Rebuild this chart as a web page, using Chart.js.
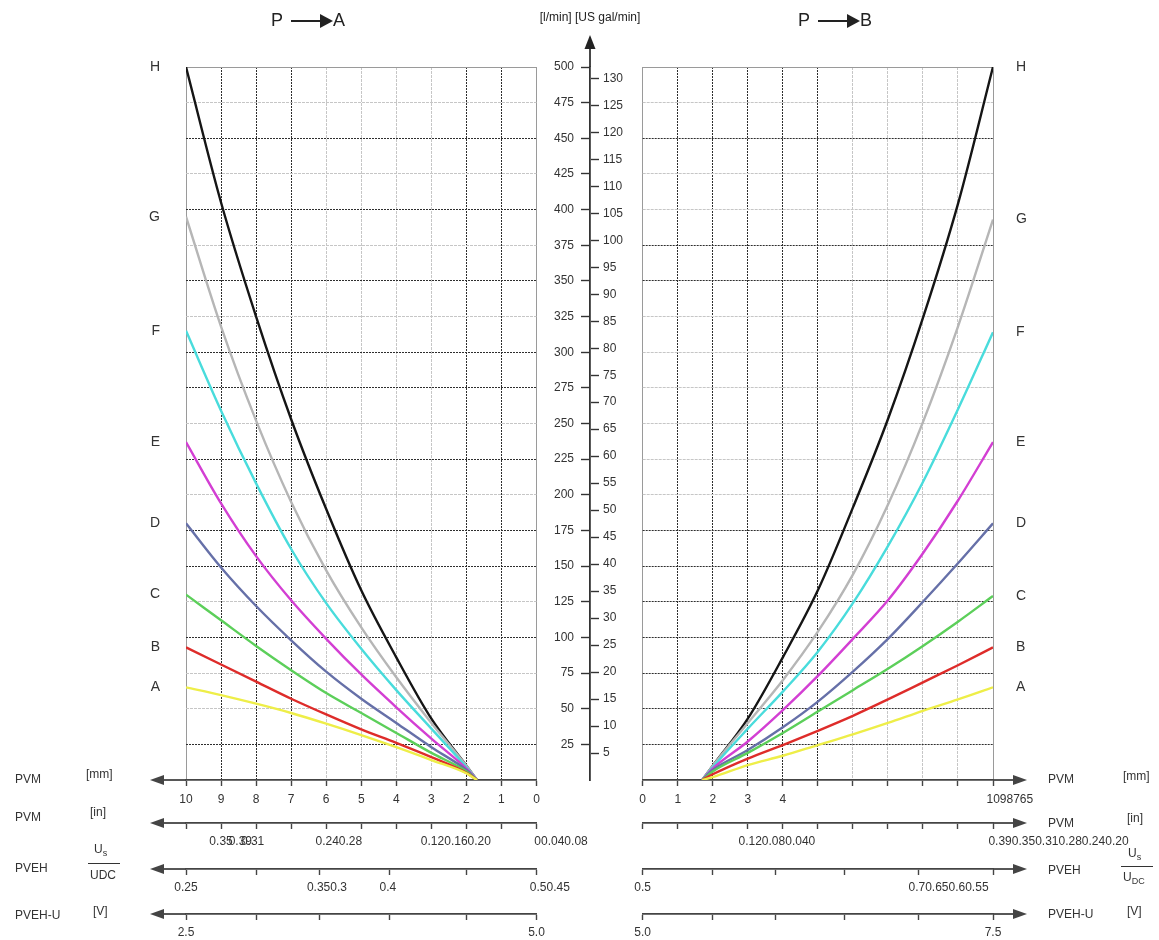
<!DOCTYPE html>
<html>
<head>
<meta charset="utf-8">
<script src="https://cdn.jsdelivr.net/npm/chart.js@4.4.0/dist/chart.umd.min.js"></script>
<style>
  body { margin: 0; background: #fff; font-family: 'Liberation Sans', Arial, sans-serif; color: #333; }
  #page { position: relative; width: 1159px; height: 940px; overflow: hidden; }
  canvas { position: absolute; top: 0; }
  .t { position: absolute; font-size: 12px; line-height: 14px; white-space: nowrap; transform: translateY(-50%); }
  .hd { position: absolute; font-size: 18px; line-height: 20px; white-space: nowrap; transform: translateY(-50%); color: #222; }
  .arr { display: inline-block; position: relative; width: 30px; height: 2px; background: #222; vertical-align: middle; margin: 0 12px 0 8px; }
  .arr::after { content: ''; position: absolute; right: -12px; top: -6px; border-left: 13px solid #222; border-top: 7px solid transparent; border-bottom: 7px solid transparent; }
  .bar { position: absolute; height: 1px; background: #333; }
  sub { font-size: 9px; vertical-align: -3px; }
</style>
</head>
<body>
<div id="page">
  <canvas id="chartPA" width="600" height="940" style="left:0"></canvas>
  <canvas id="chartPB" width="559" height="940" style="left:600px"></canvas>
  <canvas id="flowAxis" width="180" height="940" style="left:500px"></canvas>

  <div class="hd" style="left:271px;top:20px">P<span class="arr"></span>A</div>
  <div class="hd" style="left:798px;top:20px">P<span class="arr"></span>B</div>

  <div class="t" style="left:15px;top:779px">PVM</div>
  <div class="t" style="left:86px;top:774px">[mm]</div>
  <div class="t" style="left:15px;top:817px">PVM</div>
  <div class="t" style="left:90px;top:812px">[in]</div>
  <div class="t" style="left:15px;top:868px">PVEH</div>
  <div class="t" style="left:94px;top:851px">U<sub>s</sub></div>
  <div class="bar" style="left:88px;top:863px;width:32px"></div>
  <div class="t" style="left:90px;top:875px">UDC</div>
  <div class="t" style="left:15px;top:915px">PVEH-U</div>
  <div class="t" style="left:93px;top:911px">[V]</div>

  <div class="t" style="left:1048px;top:779px">PVM</div>
  <div class="t" style="left:1123px;top:776px">[mm]</div>
  <div class="t" style="left:1048px;top:823px">PVM</div>
  <div class="t" style="left:1127px;top:818px">[in]</div>
  <div class="t" style="left:1048px;top:870px">PVEH</div>
  <div class="t" style="left:1128px;top:855px">U<sub>s</sub></div>
  <div class="bar" style="left:1121px;top:866px;width:32px"></div>
  <div class="t" style="left:1123px;top:879px">U<sub>DC</sub></div>
  <div class="t" style="left:1048px;top:914px">PVEH-U</div>
  <div class="t" style="left:1127px;top:911px">[V]</div>
</div>
<script>
// spool stroke [mm] where the curves are read
const strokeMm = [1.7, 2, 3, 4, 5, 6, 7, 8, 9, 10]
const curveNames = ['A', 'B', 'C', 'D', 'E', 'F', 'G', 'H']

// P -> A flow [l/min]
const paA = [0, 4.7, 14, 23, 31.5, 39.5, 47, 53.5, 59.5, 65]
const paB = [0, 5, 16, 26, 35.5, 46, 57, 69, 81, 93]
const paC = [0, 6, 19, 33, 47, 61, 77, 94, 112, 130]
const paD = [0, 7, 23, 40, 57, 76, 98, 122, 149, 180]
const paE = [0, 8, 29, 51, 74, 99, 126, 157, 194, 237]
const paF = [0, 9, 36, 63, 92, 124, 162, 208, 259, 315]
const paG = [0, 10, 40, 72, 107, 147, 195, 252, 318, 395]
const paH = [0, 10, 43, 86, 133, 190, 253, 325, 405, 500]

// P -> B flow [l/min]
const pbA = [0, 2, 10.5, 17, 24.5, 32, 40, 48.5, 56.5, 65]
const pbB = [0, 4, 15, 24.5, 34.5, 45, 56.5, 68.5, 80.5, 93]
const pbC = [0, 6, 19, 33, 48, 63, 78, 94, 111, 129]
const pbD = [0, 7, 21, 37, 55, 76, 99, 125, 152, 180]
const pbE = [0, 8, 27, 49, 73, 99, 126, 159, 196, 237]
const pbF = [0, 9, 36, 62, 90, 124, 164, 209, 260, 314]
const pbG = [0, 10, 40, 70, 104, 144, 193, 251, 318, 393]
const pbH = [0, 10, 43, 86, 133, 191, 253, 324, 404, 500]

// central flow axis
const flowTicks = [25, 50, 75, 100, 125, 150, 175, 200, 225, 250, 275, 300, 325, 350, 375, 400, 425, 450, 475, 500]
const galTicks = [5, 10, 15, 20, 25, 30, 35, 40, 45, 50, 55, 60, 65, 70, 75, 80, 85, 90, 95, 100, 105, 110, 115, 120, 125, 130]
const litresPerGal = 3.785

// stroke axes (values in mm)
const mmTicks = [0, 1, 2, 3, 4, 5, 6, 7, 8, 9, 10]
const mmLabelsA = ['0', '1', '2', '3', '4', '5', '6', '7', '8', '9', '10']
const mmLabelPosA = [0, 1, 2, 3, 4, 5, 6, 7, 8, 9, 10]
const mmLabelsB = ['0', '1', '2', '3', '4', '1098765']
const mmLabelPosB = [0, 1, 2, 3, 4, 10.48]

const inLabelsA = ['0.35', '0.39', '0.31', '0.240.28', '0.120.160.20', '00.040.08']
const inLabelPosA = [9, 8.45, 8.1, 5.64, 2.3, -0.7]
const inLabelsB = ['0.120.080.040', '0.390.350.310.280.240.20']
const inLabelPosB = [3.83, 11.87]

const pvehTicksA = [10, 8, 6.2, 4.2, 2, 0]
const pvehLabelsA = ['0.25', '0.350.3', '0.4', '0.50.45']
const pvehLabelPosA = [10, 5.98, 4.24, -0.38]
const pvehTicksB = [0, 2, 3.78, 5.77, 7.86, 10]
const pvehLabelsB = ['0.5', '0.70.650.60.55']
const pvehLabelPosB = [0, 8.73]

const voltLabelsA = ['2.5', '5.0']
const voltLabelPosA = [10, 0]
const voltLabelsB = ['5.0', '7.5']
const voltLabelPosB = [0, 10]

// styles
const curveColors = ['#eeee48', '#de2c2a', '#5ccf5a', '#6670a8', '#d33fd3', '#49dcdc', '#b6b6b6', '#151515']
const darkColsA = [1, 2, 7, 8, 9]
const darkColsB = [1, 2, 3, 4, 5]
const darkRowsA = [25, 100, 150, 175, 225, 275, 300, 350, 400, 450]
const darkRowsB = [25, 50, 75, 100, 125, 150, 175, 350, 375, 450]
const AXIS = '#444'
const CLEAR = 'rgba(0,0,0,0)'

Chart.defaults.font.family = "'Liberation Sans', Arial, sans-serif"
Chart.defaults.font.size = 12
Chart.defaults.color = '#333'

const axisArrows = {
  id: 'axisArrows',
  afterDraw(chart, args, opts) {
    const ctx = chart.ctx
    ctx.save()
    ctx.strokeStyle = AXIS
    ctx.fillStyle = AXIS
    ctx.lineWidth = 1.8
    for (const id of opts.ids) {
      const s = chart.scales[id]
      const y = s.top
      const from = opts.dir < 0 ? s.left : s.right
      const tip = from + opts.dir * opts.reach
      ctx.beginPath()
      ctx.moveTo(from, y)
      ctx.lineTo(tip - opts.dir * 8, y)
      ctx.stroke()
      ctx.beginPath()
      ctx.moveTo(tip, y)
      ctx.lineTo(tip - opts.dir * 14, y - 5)
      ctx.lineTo(tip - opts.dir * 14, y + 5)
      ctx.closePath()
      ctx.fill()
    }
    ctx.restore()
  }
}

const flowArrow = {
  id: 'flowArrow',
  afterDraw(chart) {
    const ctx = chart.ctx
    const s = chart.scales.yl
    const x = s.right
    const top = chart.chartArea.top
    ctx.save()
    ctx.strokeStyle = '#333'
    ctx.fillStyle = '#222'
    ctx.lineWidth = 1.8
    ctx.beginPath()
    ctx.moveTo(x, top)
    ctx.lineTo(x, top - 22)
    ctx.stroke()
    ctx.beginPath()
    ctx.moveTo(x, top - 32)
    ctx.lineTo(x - 5.5, top - 18)
    ctx.lineTo(x + 5.5, top - 18)
    ctx.closePath()
    ctx.fill()
    ctx.restore()
  }
}

function bottomAxis(marks, labels, labelPos, reverse, height, padding) {
  return {
    type: 'linear',
    position: 'bottom',
    min: 0,
    max: 10,
    reverse: reverse,
    afterBuildTicks: axis => {
      axis.ticks = marks.map(v => ({ value: v, mark: true }))
        .concat(labelPos.map((v, i) => ({ value: v, text: labels[i] })))
    },
    afterFit: axis => { axis.height = height },
    ticks: {
      autoSkip: false,
      maxRotation: 0,
      minRotation: 0,
      padding: padding,
      color: '#333',
      callback: (v, i, ticks) => ticks[i].text || ''
    },
    grid: {
      drawOnChartArea: false,
      tickLength: 6,
      tickWidth: 1.4,
      tickColor: ctx => (ctx.tick && ctx.tick.mark ? AXIS : CLEAR)
    },
    border: { color: AXIS, width: 1.8 }
  }
}

function strokeAxis(labels, labelPos, reverse, darkCols) {
  const cfg = bottomAxis(mmTicks, labels, labelPos, reverse, 43, 6)
  const isEdge = t => t.value === 0 || t.value === 10
  cfg.grid.drawOnChartArea = true
  cfg.grid.lineWidth = 1
  cfg.grid.color = ctx => {
    const t = ctx.tick
    if (!t || !t.mark) return CLEAR
    if (isEdge(t)) return '#9a9a9a'
    return darkCols.includes(t.value) ? '#2e2e2e' : '#c6c6c6'
  }
  cfg.border.dash = ctx => {
    const t = ctx.tick
    if (!t || !t.mark || isEdge(t)) return []
    return darkCols.includes(t.value) ? [2, 1] : [3, 1]
  }
  return cfg
}

function panelChart(canvasId, flows, side) {
  const isA = side === 'A'
  const darkRows = isA ? darkRowsA : darkRowsB
  const endValues = flows.map(f => f[f.length - 1])
  const datasets = flows.map((f, i) => ({
    label: curveNames[i],
    data: strokeMm.map((x, j) => ({ x: x, y: f[j] })),
    borderColor: curveColors[i],
    borderWidth: 2.4,
    pointRadius: 0,
    cubicInterpolationMode: 'monotone',
    fill: false
  }))

  return new Chart(document.getElementById(canvasId), {
    type: 'line',
    data: { datasets: datasets },
    plugins: [axisArrows],
    options: {
      responsive: false,
      animation: false,
      events: [],
      devicePixelRatio: 1,
      layout: {
        autoPadding: false,
        padding: isA ? { left: 0, right: 63.5, top: 67, bottom: 0 } : { left: 42.7, right: 0, top: 67, bottom: 0 }
      },
      scales: {
        x: strokeAxis(isA ? mmLabelsA : mmLabelsB, isA ? mmLabelPosA : mmLabelPosB, isA, isA ? darkColsA : darkColsB),
        xIn: bottomAxis(mmTicks, isA ? inLabelsA : inLabelsB, isA ? inLabelPosA : inLabelPosB, isA, 46, 5),
        xPveh: bottomAxis(isA ? pvehTicksA : pvehTicksB, isA ? pvehLabelsA : pvehLabelsB, isA ? pvehLabelPosA : pvehLabelPosB, isA, 45, 5),
        xVolt: bottomAxis(isA ? pvehTicksA : pvehTicksB, isA ? voltLabelsA : voltLabelsB, isA ? voltLabelPosA : voltLabelPosB, isA, 26, 5),
        y: {
          type: 'linear',
          position: isA ? 'left' : 'right',
          min: 0,
          max: 500,
          afterBuildTicks: axis => { axis.ticks = flowTicks.map(v => ({ value: v, mark: true })) },
          afterFit: axis => { axis.width = 0 },
          ticks: { display: false },
          grid: {
            drawTicks: false,
            lineWidth: 1,
            color: ctx => {
              const t = ctx.tick
              if (!t) return CLEAR
              if (t.value === 500) return '#9a9a9a'
              return darkRows.includes(t.value) ? '#2e2e2e' : '#c6c6c6'
            }
          },
          border: {
            display: false,
            dash: ctx => {
              const t = ctx.tick
              if (!t || t.value === 500) return []
              return darkRows.includes(t.value) ? [2, 1] : [3, 1]
            }
          }
        },
        yLet: {
          type: 'linear',
          position: isA ? 'left' : 'right',
          min: 0,
          max: 500,
          afterBuildTicks: axis => { axis.ticks = endValues.map((v, i) => ({ value: v, text: curveNames[i] })) },
          afterFit: axis => { axis.width = isA ? 186 : 166 },
          ticks: {
            autoSkip: false,
            padding: isA ? 26 : 23,
            color: '#333',
            font: { size: 14 },
            callback: (v, i, ticks) => ticks[i].text
          },
          grid: { display: false, drawTicks: false },
          border: { display: false }
        }
      },
      plugins: {
        legend: { display: false },
        tooltip: { enabled: false },
        axisArrows: { ids: ['x', 'xIn', 'xPveh', 'xVolt'], dir: isA ? -1 : 1, reach: isA ? 36 : 34 }
      }
    }
  })
}

panelChart('chartPA', [paA, paB, paC, paD, paE, paF, paG, paH], 'A')
panelChart('chartPB', [pbA, pbB, pbC, pbD, pbE, pbF, pbG, pbH], 'B')

new Chart(document.getElementById('flowAxis'), {
  type: 'line',
  data: { datasets: [] },
  plugins: [flowArrow],
  options: {
    responsive: false,
    animation: false,
    events: [],
    devicePixelRatio: 1,
    layout: { autoPadding: false, padding: { left: 0, right: 0, top: 0, bottom: 160 } },
    scales: {
      x: { type: 'linear', display: false },
      yl: {
        type: 'linear',
        position: 'left',
        min: 0,
        max: 500,
        afterBuildTicks: axis => { axis.ticks = flowTicks.map(v => ({ value: v })) },
        afterFit: axis => { axis.width = 90 },
        ticks: { autoSkip: false, padding: 7, color: '#333' },
        grid: { drawOnChartArea: false, tickLength: 9, tickWidth: 1.4, tickColor: '#333' },
        border: { color: '#333', width: 1.8 }
      },
      yg: {
        type: 'linear',
        position: 'right',
        min: 0,
        max: 500 / litresPerGal,
        afterBuildTicks: axis => { axis.ticks = galTicks.map(v => ({ value: v })) },
        afterFit: axis => { axis.width = 89 },
        ticks: { autoSkip: false, padding: 4, color: '#333' },
        grid: { drawOnChartArea: false, tickLength: 8, tickWidth: 1.4, tickColor: '#333' },
        border: { display: false }
      }
    },
    plugins: {
      legend: { display: false },
      tooltip: { enabled: false },
      title: {
        display: true,
        text: '[l/min] [US gal/min]',
        color: '#222',
        font: { size: 12, weight: 'normal' },
        padding: { top: 10, bottom: 42.6 }
      }
    }
  }
})
</script>
</body>
</html>
